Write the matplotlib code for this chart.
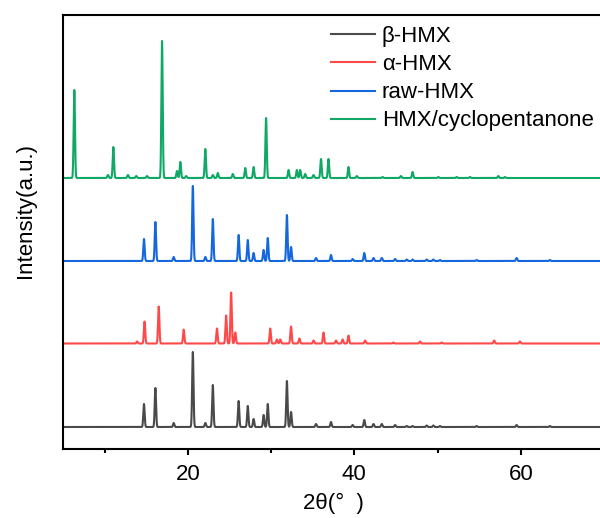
"""Stacked XRD patterns of the HMX polymorphs and the HMX/cyclopentanone solvate."""

import matplotlib

matplotlib.use("Agg")
import matplotlib.pyplot as plt  # noqa: E402
import numpy as np  # noqa: E402

plt.rcParams.update({
    "font.family": ["Liberation Sans", "DejaVu Sans"],
    "font.size": 14,
})

# Peak positions (2theta, deg) and heights (a.u.).
BETA_POS = [14.73, 16.1, 18.3, 20.6, 22.1, 23.0, 26.1, 27.2, 27.9, 29.1, 29.6,
            31.9, 32.4, 35.4, 37.2, 39.8, 41.2, 42.3, 43.3, 44.9, 46.3, 47.0,
            48.7, 49.5, 50.3, 54.7, 59.5, 63.5]
BETA_H = [23, 39, 4, 75, 4, 42, 26, 21, 8, 12, 23,
          46, 15, 3, 5, 2, 7, 3, 3, 2, 1, 1,
          1.5, 1.5, 1, 1, 2, 1]

ALPHA_POS = [13.9, 14.8, 16.5, 19.5, 23.5, 24.6, 25.2, 25.7, 29.9, 30.7, 31.1,
             32.4, 33.4, 35.1, 36.3, 37.8, 38.6, 39.3, 41.3, 44.7, 47.9, 50.5,
             56.8, 59.9]
ALPHA_H = [2, 22, 37, 14, 15, 28, 51, 11, 15, 4, 4,
           17, 5, 3, 11, 3, 4, 8, 3, 1, 2, 1,
           3, 2]

RAW_POS = [14.73, 16.1, 18.3, 20.6, 22.1, 23.0, 26.1, 27.2, 27.9, 29.1, 29.6,
           31.9, 32.4, 35.4, 37.2, 39.8, 41.2, 42.3, 43.3, 44.9, 46.3, 47.0,
           48.7, 49.5, 50.3, 54.7, 59.5, 63.5]
RAW_H = [22, 39, 4, 75, 4, 42, 26, 21, 8, 11, 23,
         46, 14, 3, 6, 2, 8, 3, 3, 2, 1.5, 1.5,
         1.5, 1.5, 1, 1, 3, 1]

SOLV_POS = [6.36, 10.4, 11.05, 12.8, 13.8, 15.1, 16.9, 18.7, 19.1, 19.8, 22.1,
            23.0, 23.6, 25.4, 26.9, 27.9, 29.4, 32.1, 33.1, 33.5, 34.1, 35.1,
            36.0, 36.9, 39.3, 40.3, 43.4, 45.6, 47.0, 50.1, 52.3, 53.9, 57.3,
            58.1]
SOLV_H = [88, 3, 31, 3, 2, 2, 137, 7, 16, 2, 29,
          3, 5, 4, 10, 11, 60, 8, 8, 8, 4, 3,
          19, 19, 11, 2, 1, 2, 6, 1, 1, 1, 2,
          1]

LABELS = ["β-HMX", "α-HMX", "raw-HMX", "HMX/cyclopentanone"]
OFFSETS = [22, 105.5, 188, 271]
COLORS = ["#4a4a4a", "#ff4848", "#1467dc", "#10a865"]

SIGMA = 0.08  # peak width in degrees


def pattern(tt, pos, h):
    y = np.zeros_like(tt)
    for p, a in zip(pos, h):
        y += a * np.exp(-0.5 * ((tt - p) / SIGMA) ** 2)
    return y


def main() -> None:
    tt = np.arange(5.0, 70.0, 0.01)
    series = [(BETA_POS, BETA_H), (ALPHA_POS, ALPHA_H),
              (RAW_POS, RAW_H), (SOLV_POS, SOLV_H)]

    fig = plt.figure(figsize=(6.0, 5.18), dpi=100)
    ax = fig.add_axes([63 / 600, 69 / 518, 541 / 600, 434 / 518])
    for (pos, h), off, col, lab in zip(series, OFFSETS, COLORS, LABELS):
        ax.plot(tt, pattern(tt, pos, h) + off, color=col, lw=1.5, label=lab)

    ax.set_xlim(5, 70)
    ax.set_ylim(0, 434)
    ax.set_xticks([20, 40, 60])
    ax.set_xticks([10, 30, 50, 70], minor=True)
    ax.set_yticks([])
    ax.tick_params(axis="x", which="major", direction="out", length=4.5, width=1.5,
                   labelsize=16, pad=6)
    ax.tick_params(axis="x", which="minor", direction="out", length=3, width=1.5)
    for s in ax.spines.values():
        s.set_linewidth(1.5)

    ax.set_xlabel("2θ(°  )", fontsize=16, labelpad=6)
    ax.set_ylabel("Intensity(a.u.)", fontsize=16)
    ax.yaxis.set_label_coords(-0.05, 0.55)

    ax.legend(loc="upper left", bbox_to_anchor=(0.47, 1.005), frameon=False,
              fontsize=16, handlelength=2.0, handletextpad=0.3,
              labelspacing=0.32, borderaxespad=0.2)

    fig.savefig("out.png", dpi=100)
    plt.close(fig)


if __name__ == "__main__":
    main()
